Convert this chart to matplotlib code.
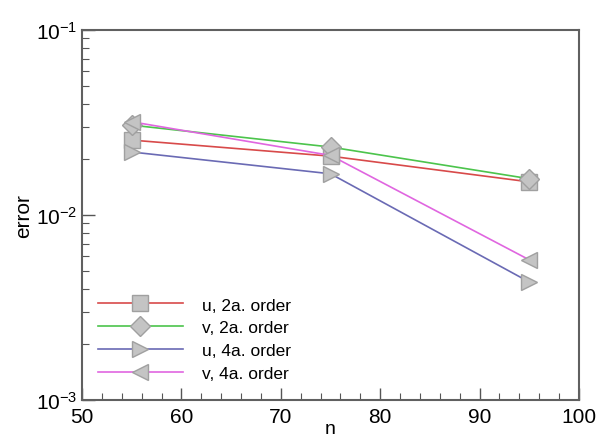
import numpy as np
import matplotlib
matplotlib.use('Agg')
import matplotlib.pyplot as plt
from matplotlib.ticker import LogLocator, MultipleLocator, NullFormatter

plt.rcParams['font.family'] = ['Liberation Sans', 'DejaVu Sans']
plt.rcParams['mathtext.fontset'] = 'custom'
plt.rcParams['mathtext.rm'] = 'Liberation Sans'
plt.rcParams['mathtext.it'] = 'Liberation Sans:italic'

n = [55, 75, 95]
u_2a = [0.0254, 0.0208, 0.0151]
v_2a = [0.0306, 0.0233, 0.0157]
u_4a = [0.0219, 0.0167, 0.00434]
v_4a = [0.0319, 0.0210, 0.00572]

labels = ['u, 2a. order', 'v, 2a. order', 'u, 4a. order', 'v, 4a. order']
colors = ['#d84a4a', '#4cc44c', '#6a6ab4', '#e066e0']
markers = ['s', 'D', '>', '<']
sizes = [11, 10, 12, 12]

fig = plt.figure(figsize=(5.96, 4.39), dpi=100)
ax = fig.add_axes([0.1376, 0.0866, 0.8339, 0.8428])

for y, lab, c, m, ms in zip([u_2a, v_2a, u_4a, v_4a], labels, colors, markers, sizes):
    ax.plot(n, y, color=c, lw=1.2, marker=m, markersize=ms,
            markerfacecolor='#c4c4c4', markeredgecolor='#a0a0a0',
            markeredgewidth=1.0, label=lab)

ax.set_yscale('log')
ax.set_xlim(50, 100)
ax.set_ylim(1e-3, 1e-1)
ax.xaxis.set_major_locator(MultipleLocator(10))
ax.xaxis.set_minor_locator(MultipleLocator(2))
ax.yaxis.set_major_locator(LogLocator(base=10))
ax.yaxis.set_minor_locator(LogLocator(base=10, subs=np.arange(2, 10)))
ax.yaxis.set_minor_formatter(NullFormatter())
ax.set_yticks([1e-3, 1e-2, 1e-1])
ax.set_yticklabels([r'$10^{-3}$', r'$10^{-2}$', r'$10^{-1}$'])

ax.tick_params(which='both', direction='in', top=False, right=False,
               colors='#555555', labelcolor='black', labelsize=15)
ax.tick_params(which='major', length=9, width=1.0)
ax.tick_params(which='minor', length=5, width=0.8)
ax.tick_params(axis='x', pad=5)
for s in ax.spines.values():
    s.set_color('#606060')
    s.set_linewidth(1.5)

ax.set_xlabel('n', fontsize=14, labelpad=-4)
ax.set_ylabel('error', fontsize=15, labelpad=2)

ax.legend(loc='lower left', frameon=False, fontsize=12.5, handlelength=4.9,
          handletextpad=1.1, labelspacing=0.45, bbox_to_anchor=(0.0, 0.008))

fig.savefig('out.png', dpi=100)
